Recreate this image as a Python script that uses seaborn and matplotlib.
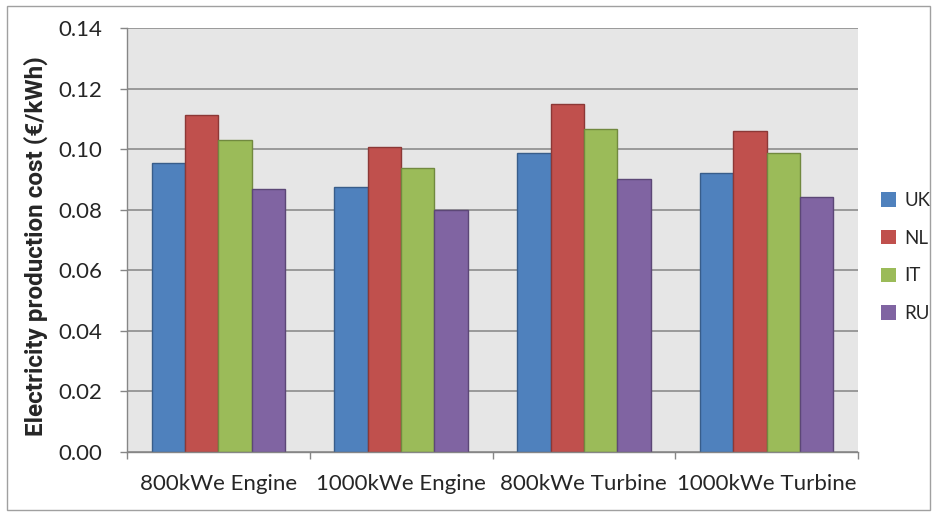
import pandas as pd
import matplotlib.pyplot as plt
import seaborn as sns
from matplotlib.patches import Rectangle

# Values
configs = ['800kWe Engine', '1000kWe Engine', '800kWe Turbine', '1000kWe Turbine']
countries = ['UK', 'NL', 'IT', 'RU']
uk = [0.0955, 0.0874, 0.0988, 0.0922]
nl = [0.1112, 0.1008, 0.1150, 0.1059]
it = [0.1030, 0.0938, 0.1068, 0.0988]
ru = [0.0869, 0.0800, 0.0903, 0.0842]

colors = ['#4F81BD', '#C0504D', '#9BBB59', '#8064A2']
edges = ['#385D8A', '#8C3836', '#71893F', '#5C4776']

rows = []
for country, vals in zip(countries, [uk, nl, it, ru]):
    for cfg, v in zip(configs, vals):
        rows.append({'config': cfg, 'country': country, 'cost': v})
df = pd.DataFrame(rows)

sns.set_style('white')
plt.rcParams['font.family'] = ['Lato', 'DejaVu Sans']

fig = plt.figure(figsize=(9.36, 5.22), dpi=100)
ax = fig.add_axes([127 / 936, 1 - 452 / 522, 731 / 936, 424 / 522])
ax.set_facecolor('#E6E6E6')

sns.barplot(data=df, x='config', y='cost', hue='country', order=configs,
            hue_order=countries, palette=colors, saturation=1, width=0.73,
            ax=ax, edgecolor='none', linewidth=0)
for patch_group, ec in zip(ax.containers, edges):
    for p in patch_group:
        p.set_edgecolor(ec)
        p.set_linewidth(1.0)

ax.set_ylim(0, 0.14)
ax.set_xlim(-0.5, 3.5)
ax.set_yticks([i * 0.02 for i in range(8)])
ax.set_yticklabels([f'{i * 0.02:.2f}' for i in range(8)])
ax.grid(axis='y', color='#8C8C8C', linewidth=1.2)
ax.set_axisbelow(True)

for s in ['top', 'right']:
    ax.spines[s].set_visible(False)
for s in ['left', 'bottom']:
    ax.spines[s].set_color('#868686')
    ax.spines[s].set_linewidth(1.0)

ax.tick_params(axis='y', length=5, width=1, color='#868686', pad=13,
               labelsize=16, left=True)
ax.tick_params(axis='x', which='major', length=0, pad=16, labelsize=16)
ax.set_xticks([-0.5, 0.5, 1.5, 2.5, 3.5], minor=True)
ax.tick_params(axis='x', which='minor', length=5, width=1, color='#868686',
               bottom=True)

ax.set_xlabel('')
ax.set_ylabel('Electricity production cost (€/kWh)', fontsize=17.5,
              fontweight='bold', family=['Roboto', 'DejaVu Sans'])
ax.yaxis.set_label_coords(-0.108, 0.485)

leg = ax.legend(loc='center left', bbox_to_anchor=(881 / 936, 1 - 257 / 522),
                bbox_transform=fig.transFigure, frameon=False, fontsize=13.5,
                borderpad=0, borderaxespad=0, handlelength=0.8,
                handleheight=0.8, handletextpad=0.45, labelspacing=1.1)

fig.patches.append(Rectangle((7 / 936, 1 - 510 / 522), 923 / 936, 504 / 522,
                             transform=fig.transFigure, fill=False,
                             edgecolor='#A0A0A0', linewidth=1))

fig.savefig('out.png', dpi=100)
